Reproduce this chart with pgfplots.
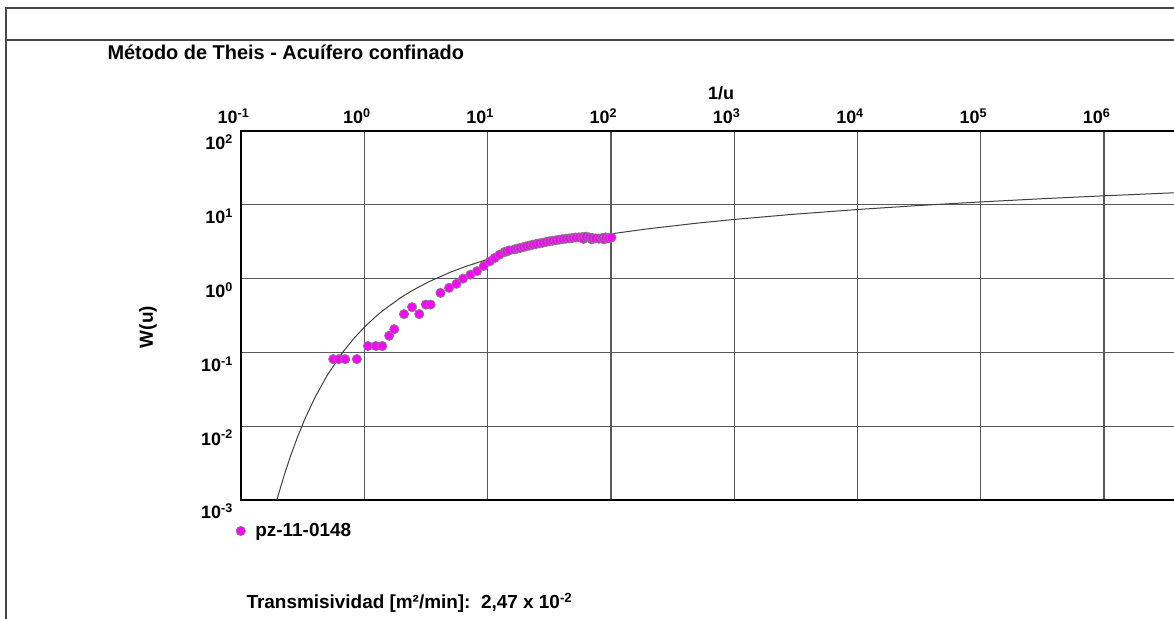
\documentclass[border=0pt]{standalone}
\usepackage{pgfplots}
\pgfplotsset{compat=1.18}
\usepackage{fontspec}
\setmainfont{Liberation Sans}
\definecolor{frame}{RGB}{70,70,70}
\definecolor{gridc}{RGB}{90,90,90}
\definecolor{mag}{RGB}{255,0,255}
\newcommand{\pw}[1]{10\textsuperscript{#1}}
\newcommand{\fs}[1]{\fontsize{#1}{#1}\selectfont}

\begin{document}
\begin{tikzpicture}[x=1bp,y=1bp]
\useasboundingbox (0,0) rectangle (1174,619);
% outer frame
\draw[line width=2bp, frame] (1180,611) -- (6,611) -- (6,-5);
\draw[line width=2bp, frame] (6,579) -- (1180,579);

\node[anchor=base west, font=\bfseries\fs{20}] at (104,559) {Método de Theis - Acuífero confinado};
\node[anchor=base, font=\bfseries\fs{18}] at (721,519) {1/u};
\node[rotate=90, font=\bfseries\fs{19}] at (148,292) {W(u)};
\node[anchor=base west, font=\bfseries\fs{19}] at (243,10) {Transmisividad [m²/min]:\ \ 2,47 x \pw{-2}};

\begin{axis}[
at={(241bp,119bp)}, anchor=south west,
scale only axis,
width=986.4bp, height=369bp,
xmode=log, ymode=log,
xmin=0.1, xmax=1e7,
ymin=1e-3, ymax=1e2,
xtick={0.1,1,10,100,1000,1e4,1e5,1e6},
xticklabels={\pw{-1},\pw{0},\pw{1},\pw{2},\pw{3},\pw{4},\pw{5},\pw{6}},
ytick={1e-3,1e-2,1e-1,1,10,100},
yticklabels={\pw{-3},\pw{-2},\pw{-1},\pw{0},\pw{1},\pw{2}},
xminorticks=false, yminorticks=false,
minor tick length=0pt,
major tick length=0pt,
xticklabel pos=top,
xticklabel style={font=\bfseries\fs{18}, inner sep=0pt, anchor=base, yshift=7.5bp, xshift=-7.5bp},
yticklabel style={font=\bfseries\fs{18}, inner sep=0pt, anchor=base east, yshift=-19bp, xshift=-8bp},
grid=major,
major grid style={line width=1.3bp, gridc},
axis line style={line width=2bp, black},
legend style={draw=none, fill=none, at={(0,0)}, anchor=west, xshift=-5bp, yshift=-31bp,
  inner sep=0pt, column sep=10bp, font=\bfseries\fs{19}, nodes={inner sep=0pt}},
legend image code/.code={\draw[#1] plot coordinates {(0bp,0bp)};},
]
\addplot[line width=1bp, black!75, forget plot] table[row sep=crcr]{
0.1923 0.00090\\
0.2 0.001148\\
0.2222 0.002073\\
0.25 0.003779\\
0.2857 0.006970\\
0.3333 0.01305\\
0.4 0.02491\\
0.5 0.04890\\
0.6667 0.1000\\
0.8333 0.1584\\
1 0.2194\\
1.25 0.3106\\
1.4286 0.3738\\
2 0.5598\\
2.5 0.7024\\
3.3333 0.9057\\
5 1.2227\\
6.6667 1.4645\\
10 1.8229\\
20 2.4679\\
33.333 2.9591\\
50 3.3547\\
100 4.0379\\
200 4.7261\\
500 5.6394\\
1000 6.3316\\
3000 7.4295\\
10000 8.6332\\
30000 9.7320\\
100000 10.9357\\
300000 12.0350\\
1000000 13.2383\\
3000000 14.3370\\
10000000 15.5409\\
};
\addplot[only marks, mark=*, mark size=4.6bp, mark options={fill=mag, draw=gray, line width=0.8bp}] table[row sep=crcr]{
0.56 0.081\\
0.62 0.081\\
0.70 0.081\\
0.87 0.081\\
1.07 0.122\\
1.24 0.122\\
1.40 0.122\\
1.59 0.168\\
1.75 0.206\\
2.10 0.33\\
2.44 0.41\\
2.79 0.33\\
3.16 0.445\\
3.45 0.445\\
4.15 0.64\\
4.87 0.75\\
5.59 0.85\\
6.32 1.0\\
7.25 1.13\\
8.2 1.26\\
9.3 1.48\\
10.4 1.71\\
11.4 1.90\\
12.5 2.11\\
13.7 2.29\\
14.3 2.33\\
15.0 2.41\\
16.5 2.49\\
17.4 2.55\\
18.3 2.59\\
19.4 2.66\\
20.5 2.73\\
21.8 2.80\\
23.2 2.88\\
24.7 2.94\\
26.3 3.0\\
28.0 3.06\\
29.7 3.13\\
31.6 3.20\\
33.6 3.26\\
35.7 3.30\\
38.0 3.37\\
40.5 3.42\\
43.1 3.47\\
45.8 3.50\\
48.7 3.55\\
51.8 3.60\\
55.2 3.62\\
58.7 3.65\\
60.0 3.45\\
62.5 3.70\\
66.5 3.62\\
70.0 3.40\\
70.7 3.55\\
75.0 3.50\\
80.0 3.47\\
85.0 3.55\\
88.0 3.40\\
90.5 3.62\\
95.0 3.50\\
101 3.60\\
};
\addlegendentry{pz-11-0148}
\end{axis}
\end{tikzpicture}
\end{document}
